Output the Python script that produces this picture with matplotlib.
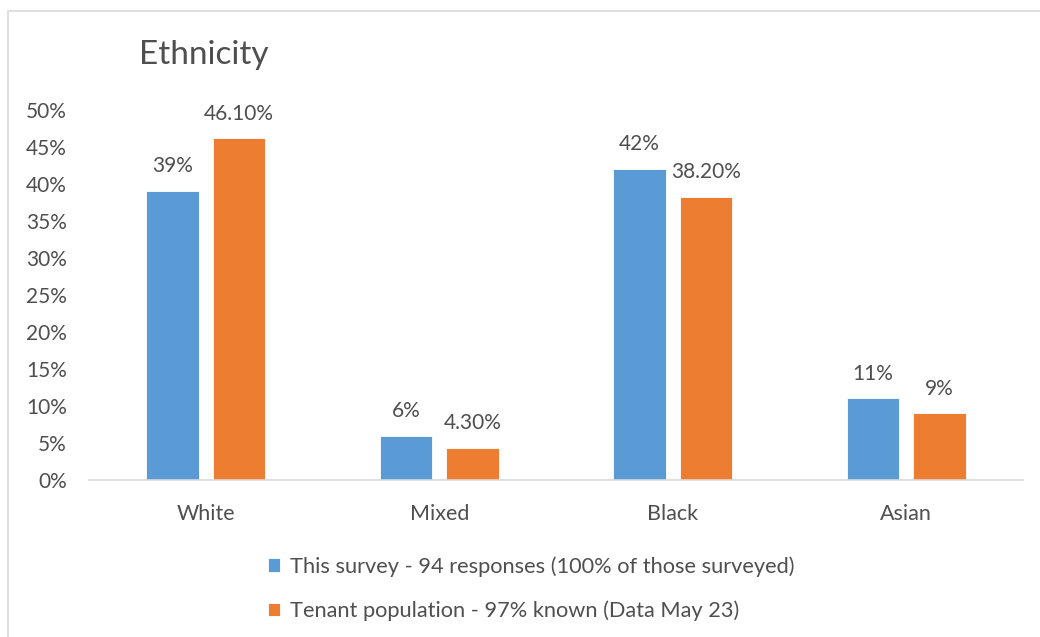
import matplotlib.pyplot as plt
import matplotlib.patches as mpatches
import numpy as np

plt.rcParams['font.family'] = ['Lato', 'DejaVu Sans']

# Ethnicity breakdown
categories = ['White', 'Mixed', 'Black', 'Asian']
survey = [0.39, 0.06, 0.42, 0.11]
tenants = [0.461, 0.043, 0.382, 0.09]
tenant_decimals = [2, 2, 2, 0]
series_names = ['This survey - 94 responses (100% of those surveyed)',
                'Tenant population - 97% known (Data May 23)']
yticks = np.arange(0, 0.51, 0.05)

blue = '#5B9BD5'
orange = '#ED7D31'
grey_text = '#4F4F4F'
axis_grey = '#D9D9D9'

fig = plt.figure(figsize=(10.4, 6.37), dpi=100)
ax = fig.add_axes([89 / 1040, 1 - 480 / 637, 934 / 1040, 370.5 / 637])

x = np.arange(len(categories))
width = 0.223
offset = 0.1425
b1 = ax.bar(x - offset, survey, width, color=blue, edgecolor='white', linewidth=0.6)
b2 = ax.bar(x + offset, tenants, width, color=orange, edgecolor='white', linewidth=0.6)

# value labels above bars
for bar, v in zip(b1, survey):
    ax.annotate(f'{v * 100:.0f}%', (bar.get_x() + bar.get_width() / 2, v),
                xytext=(0, 13.5), textcoords='offset points', ha='center',
                va='baseline', fontsize=15, color=grey_text)
for bar, v, d in zip(b2, tenants, tenant_decimals):
    ax.annotate(f'{v * 100:.{d}f}%', (bar.get_x() + bar.get_width() / 2, v),
                xytext=(0, 13.5), textcoords='offset points', ha='center',
                va='baseline', fontsize=15, color=grey_text)

ax.set_xlim(-0.5, len(categories) - 0.5)
ax.set_ylim(0, 0.5)
ax.set_yticks(yticks)
ax.set_yticklabels([f'{t * 100:.0f}%' for t in yticks])
ax.set_xticks(x)
ax.set_xticklabels(categories)
ax.tick_params(axis='both', length=0, labelsize=15, labelcolor=grey_text)
ax.tick_params(axis='y', pad=16)
ax.tick_params(axis='x', labelsize=15.5, pad=17)

for side in ['top', 'right', 'left']:
    ax.spines[side].set_visible(False)
ax.spines['bottom'].set_color(axis_grey)
ax.spines['bottom'].set_linewidth(1.2)

fig.text(139 / 1040, 1 - 64 / 637, 'Ethnicity', fontsize=24, color=grey_text,
         ha='left', va='baseline')

fig.legend([b1, b2], series_names, loc='upper left',
           bbox_to_anchor=(268 / 1040, 1 - 556 / 637), frameon=False,
           fontsize=15.7, labelcolor=grey_text, handlelength=0.55,
           handleheight=0.6, handletextpad=0.45, labelspacing=1.1,
           borderpad=0, borderaxespad=0)

# chart frame
fig.patches.append(mpatches.Rectangle((8 / 1040, -0.1), 1.2, 1.1 - 11 / 637,
                                      transform=fig.transFigure, fill=False,
                                      edgecolor=axis_grey, linewidth=1.2))

fig.savefig('out.png', dpi=100)
